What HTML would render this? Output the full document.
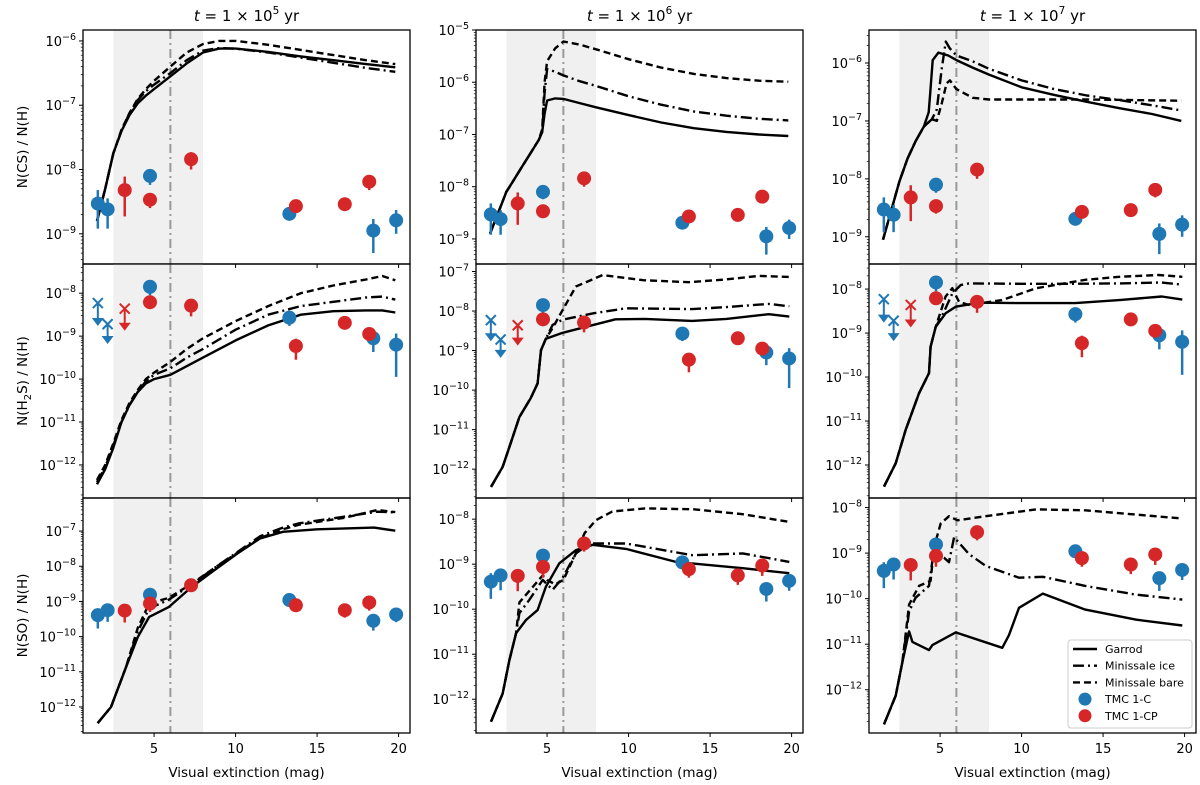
<!DOCTYPE html>
<html><head><meta charset="utf-8"><style>
body{margin:0;background:#fff}
svg{display:block;font-family:"DejaVu Sans","Liberation Sans",sans-serif}
</style></head><body>
<svg id="fig" width="1200" height="785" viewBox="0 0 1200 785"></svg>
<script>
// ---- observation data (log10 abundance) ----
const blueX=[1.55,2.15,4.75,13.3,18.45,19.85];
const redX=[3.2,4.75,7.27,13.7,16.7,18.2];
const csBlue=[-8.53,-8.62,-8.1,-8.69,-8.95,-8.79];
const csBlueLo=[-8.92,-8.92,-8.24,-8.79,-9.3,-9.0];
const csBlueHi=[-8.32,-8.45,-8.05,-8.65,-8.77,-8.63];
const csRed=[-8.32,-8.47,-7.84,-8.57,-8.54,-8.19];
const csRedLo=[-8.73,-8.6,-8.0,-8.67,-8.58,-8.32];
const csRedHi=[-8.11,-8.43,-7.73,-8.5,-8.5,-8.15];
const h2sBlue=[null,null,-7.85,-8.57,-9.05,-9.2];
const h2sBlueLo=[null,null,-8.05,-8.76,-9.37,-9.95];
const h2sBlueHi=[null,null,-7.72,-8.5,-8.9,-8.94];
const h2sRed=[null,-8.21,-8.29,-9.23,-8.69,-8.95];
const h2sRedLo=[null,-8.3,-8.54,-9.55,-8.75,-9.05];
const h2sRedHi=[null,-8.15,-8.2,-9.06,-8.65,-8.9];
const h2sLimX=[1.55,2.15,3.2];
const h2sLimVal=[-8.23,-8.72,-8.36];
const h2sLimTip=[-8.74,-9.16,-8.85];
const h2sLimColor=['b','b','r'];
const soBlue=[-9.39,-9.25,-8.81,-8.96,-9.55,-9.37];
const soBlueLo=[-9.77,-9.58,-9.04,-9.1,-9.83,-9.59];
const soBlueHi=[-9.2,-9.15,-8.75,-8.9,-9.45,-9.3];
const soRed=[-9.26,-9.06,-8.54,-9.11,-9.25,-9.03];
const soRedLo=[-9.6,-9.3,-8.72,-9.3,-9.46,-9.26];
const soRedHi=[-9.2,-9.0,-8.45,-9.05,-9.2,-8.98];
// ---- model curves (log10) ----
const r1c1x=[1.5,2,2.5,3,3.5,4,4.5,5,6,7,8,9,10,12,14,16,18,19.8];
const r1c1G=[-8.8,-8.3,-7.75,-7.4,-7.15,-6.97,-6.85,-6.75,-6.55,-6.35,-6.18,-6.12,-6.12,-6.17,-6.24,-6.3,-6.36,-6.41];
const r1c1I=[-8.8,-8.3,-7.75,-7.4,-7.12,-6.92,-6.78,-6.68,-6.5,-6.3,-6.15,-6.11,-6.12,-6.18,-6.26,-6.34,-6.42,-6.48];
const r1c1B=[-8.8,-8.3,-7.75,-7.38,-7.12,-6.9,-6.75,-6.62,-6.4,-6.18,-6.05,-6.0,-6.0,-6.06,-6.14,-6.22,-6.3,-6.36];
const r1c2x=[1.5,2,2.5,3,3.5,4,4.5,4.7,4.85,5,5.5,6,7,8,10,12,14,16,18,19.8];
const r1c2G=[-8.9,-8.5,-8.1,-7.85,-7.6,-7.35,-7.1,-6.95,-6.6,-6.35,-6.31,-6.32,-6.4,-6.48,-6.63,-6.77,-6.88,-6.95,-7.0,-7.03];
const r1c2I=[-8.9,-8.5,-8.1,-7.85,-7.6,-7.35,-7.1,-6.95,-6.2,-5.75,-5.8,-5.87,-5.98,-6.07,-6.27,-6.43,-6.56,-6.64,-6.7,-6.73];
const r1c2B=[-8.9,-8.5,-8.1,-7.85,-7.6,-7.35,-7.1,-6.9,-6.0,-5.6,-5.35,-5.22,-5.28,-5.37,-5.56,-5.72,-5.84,-5.92,-5.97,-5.99];
const r1c3Gx=[1.5,2,2.5,3,3.5,4,4.3,4.4,4.55,4.9,5.5,6,7,8,10,12,14,16,18,19.8];
const r1c3G=[-9.05,-8.55,-8.05,-7.65,-7.35,-7.1,-6.85,-6.5,-5.95,-5.82,-5.87,-5.95,-6.08,-6.2,-6.42,-6.55,-6.67,-6.78,-6.88,-7.0];
const r1c3Ix=[1.5,2,2.5,3,3.5,4,4.5,4.8,5.1,5.35,5.6,6,7,8,10,12,14,16,18,19.8];
const r1c3I=[-9.05,-8.55,-8.05,-7.65,-7.35,-7.1,-6.97,-6.8,-6.1,-5.63,-5.75,-5.87,-5.97,-6.1,-6.3,-6.45,-6.56,-6.64,-6.73,-6.82];
const r1c3Bx=[1.5,2,2.5,3,3.5,4,4.5,4.8,5.1,5.4,5.6,6,7,8,10,14,19.8];
const r1c3B=[-9.05,-8.55,-8.05,-7.65,-7.35,-7.1,-6.97,-7.0,-6.7,-6.35,-6.3,-6.45,-6.6,-6.63,-6.63,-6.63,-6.65];
const r2c1x=[1.5,2,2.5,3,3.5,4,4.5,5,6,7,8,10,12,14,16,18,19,19.8];
const r2c1G=[-12.45,-12.1,-11.6,-11.0,-10.6,-10.3,-10.1,-10.0,-9.9,-9.7,-9.5,-9.1,-8.75,-8.5,-8.42,-8.4,-8.4,-8.45];
const r2c1I=[-12.4,-12.05,-11.55,-11.0,-10.6,-10.3,-10.05,-9.9,-9.75,-9.5,-9.3,-8.85,-8.5,-8.3,-8.2,-8.1,-8.08,-8.15];
const r2c1B=[-12.35,-12.0,-11.5,-10.95,-10.55,-10.25,-10.0,-9.85,-9.6,-9.3,-9.05,-8.65,-8.3,-8.0,-7.82,-7.68,-7.6,-7.7];
const r2c2Gx=[1.56,2.28,2.69,3.3,4.0,4.42,4.63,4.93,5.96,7.39,9.2,11,13.9,16,18.6,19.86];
const r2c2G=[-12.45,-11.94,-11.44,-10.68,-10.2,-9.83,-8.99,-8.7,-8.55,-8.4,-8.21,-8.2,-8.25,-8.2,-8.08,-8.14];
const r2c2Ix=[1.56,2.28,2.69,3.3,4.0,4.42,4.63,4.93,5.34,5.96,7.8,9.84,12,13.9,16,18.6,19.86];
const r2c2I=[-12.45,-11.94,-11.44,-10.68,-10.2,-9.83,-8.99,-8.7,-8.35,-8.22,-8.06,-7.93,-7.94,-7.95,-7.9,-7.82,-7.88];
const r2c2Bx=[1.56,2.28,2.69,3.3,4.0,4.42,4.63,4.93,5.34,5.96,6.77,8.4,10.9,13.7,16,18.0,19.86];
const r2c2B=[-12.45,-11.94,-11.44,-10.68,-10.2,-9.83,-8.99,-8.7,-8.43,-7.97,-7.38,-7.09,-7.22,-7.27,-7.2,-7.11,-7.14];
const r2c3Gx=[1.56,2.28,2.89,3.71,4.32,4.42,4.73,5.34,5.96,7.39,10,13.3,16,18.6,19.86];
const r2c3G=[-12.49,-11.96,-11.2,-10.37,-9.91,-9.31,-8.86,-8.55,-8.4,-8.31,-8.32,-8.32,-8.25,-8.17,-8.24];
const r2c3Ix=[1.56,2.28,2.89,3.71,4.32,4.42,4.73,5.2,5.75,6.26,6.77,10,12.9,16,18.6,19.86];
const r2c3I=[-12.49,-11.96,-11.2,-10.37,-9.91,-9.31,-8.86,-8.55,-8.1,-7.91,-7.87,-7.88,-7.88,-7.87,-7.85,-7.9];
const r2c3Bx=[1.56,2.28,2.89,3.71,4.32,4.42,4.73,5.34,5.75,6.16,6.77,8.8,10.9,13.9,16,18.4,19.86];
const r2c3B=[-12.49,-11.96,-11.2,-10.37,-9.91,-9.31,-8.86,-8.17,-7.98,-8.29,-8.36,-8.25,-7.98,-7.79,-7.72,-7.68,-7.72];
const r3c1Gx=[1.54,2.36,3.28,4.0,4.7,5.9,7.3,8.7,10.1,11.5,12.9,15,18.5,19.8];
const r3c1G=[-12.46,-12.0,-10.87,-10.01,-9.44,-9.16,-8.59,-8.11,-7.64,-7.21,-7.02,-6.95,-6.9,-6.99];
const r3c1x=[1.54,2.36,3.28,4.0,4.7,5.9,7.3,8.7,10.1,11.5,12.9,13.9,16.7,18.7,19.8];
const r3c1I=[-12.46,-12.0,-10.87,-9.85,-9.2,-8.95,-8.52,-8.05,-7.6,-7.15,-6.9,-6.78,-6.59,-6.45,-6.47];
const r3c1B=[-12.46,-12.0,-10.87,-9.75,-9.06,-8.9,-8.5,-8.05,-7.62,-7.2,-6.95,-6.82,-6.62,-6.4,-6.46];
const r3c2Gx=[1.56,2.28,2.69,3.1,3.71,4.42,4.93,5.75,6.77,7.8,9.84,12.9,17,19.86];
const r3c2G=[-12.5,-11.87,-11.13,-10.53,-10.24,-10.02,-9.5,-8.98,-8.69,-8.57,-8.66,-8.95,-9.09,-9.2];
const r3c2Ix=[1.56,2.28,2.69,3.1,3.3,3.9,4.73,5.34,5.96,6.77,7.6,9.84,13.9,17,19.86];
const r3c2I=[-12.5,-11.87,-11.13,-10.53,-10.09,-9.8,-9.35,-9.57,-9.3,-8.76,-8.54,-8.54,-8.8,-8.76,-8.95];
const r3c2Bx=[1.56,2.28,2.69,3.1,3.3,3.9,4.73,5.0,5.5,6.0,6.77,7.3,8.0,9.0,11,14,17,19.86];
const r3c2B=[-12.5,-11.87,-11.13,-10.53,-9.85,-9.6,-9.25,-9.35,-9.45,-9.35,-8.76,-8.31,-8.02,-7.83,-7.76,-7.78,-7.89,-8.06];
const r3c3Gx=[1.56,2.28,2.69,3.1,3.3,4.32,4.53,5.96,8.82,9.23,9.84,11.3,13.9,17,19.86];
const r3c3G=[-12.76,-12.13,-11.39,-10.72,-10.95,-11.13,-11.02,-10.74,-11.08,-10.8,-10.2,-9.89,-10.24,-10.46,-10.59];
const r3c3Ix=[1.56,2.28,2.69,3.1,3.5,4.32,4.53,4.83,5.24,5.55,5.86,6.77,7.8,9.84,11.3,13.9,17,19.86];
const r3c3I=[-12.76,-12.13,-11.39,-10.28,-9.98,-9.72,-9.17,-9.05,-9.1,-9.2,-8.65,-9.02,-9.28,-9.54,-9.52,-9.72,-9.91,-10.02];
const r3c3Bx=[1.56,2.28,2.69,3.1,3.71,4.42,4.63,5.04,5.55,6.06,7.8,10.9,13.9,19.86];
const r3c3B=[-12.76,-12.13,-11.39,-10.13,-9.72,-9.61,-8.87,-8.35,-8.19,-8.28,-8.19,-8.04,-8.06,-8.24];
const xTicks=[5,10,15,20];
const titles=['1 \u00d7 10','1 \u00d7 10','1 \u00d7 10'];
const titleExp=['5','6','7'];

const NS='http://www.w3.org/2000/svg';
const svg=document.getElementById('fig');
function mk(tag,attrs,parent){const e=document.createElementNS(NS,tag);for(const k in attrs)e.setAttribute(k,attrs[k]);(parent||svg).appendChild(e);return e;}
const colL=[83,476,869], colW=327;
const rowT=[30,264,498], rowH=[234,234,235];
const XMIN=0.64, XMAX=20.7;
const yr=[[[-9.47,-5.83],[-9.48,-5.0],[-9.47,-5.43]],
          [[-12.77,-7.32],[-12.73,-6.81],[-12.75,-7.43]],
          [[-12.74,-6.06],[-12.75,-7.53],[-12.95,-7.79]]];
const curves=[
 [[r1c1x,r1c1G,r1c1x,r1c1I,r1c1x,r1c1B],[r1c2x,r1c2G,r1c2x,r1c2I,r1c2x,r1c2B],[r1c3Gx,r1c3G,r1c3Ix,r1c3I,r1c3Bx,r1c3B]],
 [[r2c1x,r2c1G,r2c1x,r2c1I,r2c1x,r2c1B],[r2c2Gx,r2c2G,r2c2Ix,r2c2I,r2c2Bx,r2c2B],[r2c3Gx,r2c3G,r2c3Ix,r2c3I,r2c3Bx,r2c3B]],
 [[r3c1Gx,r3c1G,r3c1x,r3c1I,r3c1x,r3c1B],[r3c2Gx,r3c2G,r3c2Ix,r3c2I,r3c2Bx,r3c2B],[r3c3Gx,r3c3G,r3c3Ix,r3c3I,r3c3Bx,r3c3B]]];
const obs=[
 [csBlue,csBlueLo,csBlueHi,csRed,csRedLo,csRedHi],
 [h2sBlue,h2sBlueLo,h2sBlueHi,h2sRed,h2sRedLo,h2sRedHi],
 [soBlue,soBlueLo,soBlueHi,soRed,soRedLo,soRedHi]];
const BLUE='#1f77b4', RED='#d62728';
const styles=[{d:'none',n:'garrod'},{d:'11,4,2,4',n:'minissale-ice'},{d:'7,4',n:'minissale-bare'}];
const ylabels=[['N(CS) / N(H)'],['N(H','2','S) / N(H)'],['N(SO) / N(H)']];
const species=['cs','h2s','so'];

const defs=mk('defs',{});
for(let r=0;r<3;r++)for(let c=0;c<3;c++){
  const cp=mk('clipPath',{id:'cp'+r+c},defs);
  mk('rect',{x:colL[c],y:rowT[r],width:colW,height:rowH[r]},cp);
}
for(let r=0;r<3;r++)for(let c=0;c<3;c++){
  const L=colL[c],T=rowT[r],H=rowH[r],lo=yr[r][c][0],hi=yr[r][c][1];
  const sx=x=>L+(x-XMIN)/(XMAX-XMIN)*colW;
  const sy=v=>T+(hi-v)/(hi-lo)*H;
  const g=mk('g',{});
  
  
  const cg=mk('g',{'clip-path':'url(#cp'+r+c+')'},g);
  const sh=mk('rect',{x:sx(2.5),y:T,width:sx(8)-sx(2.5),height:H,fill:'#f0f0f0'},cg);
  
  
  const vl=mk('line',{x1:sx(6),x2:sx(6),y1:T,y2:T+H,stroke:'#999',"stroke-width":2,"stroke-dasharray":'9,4,2,4'},cg);
  
  
  for(let s=0;s<3;s++){
    const xs=curves[r][c][2*s], vs=curves[r][c][2*s+1];
    const d=xs.map((x,i)=>(i?'L':'M')+sx(x).toFixed(1)+','+sy(vs[i]).toFixed(1)).join('');
    const p=mk('path',{d:d,fill:'none',stroke:'#000',"stroke-width":2.4,"stroke-linejoin":'round'},cg);
    if(styles[s].d!=='none')p.setAttribute('stroke-dasharray',styles[s].d);
    
    
  }
  const o=obs[r];
  const draw=(xs,v,lo2,hi2,col,nm)=>{
    for(let i=0;i<xs.length;i++){ if(v[i]===null)continue;
      const e=mk('line',{x1:sx(xs[i]),x2:sx(xs[i]),y1:sy(lo2[i]),y2:sy(hi2[i]),stroke:col,"stroke-width":2.5},cg);
      
      
      const m=mk('circle',{cx:sx(xs[i]),cy:sy(v[i]),r:7,fill:col},cg);
      
      
    }};
  draw(blueX,o[0],o[1],o[2],BLUE,'tmc1c');
  draw(redX,o[3],o[4],o[5],RED,'tmc1cp');
  if(r===1){
    for(let i=0;i<h2sLimX.length;i++){
      const col=h2sLimColor[i]==='b'?BLUE:RED, X=sx(h2sLimX[i]), Y=sy(h2sLimVal[i]), Yt=sy(h2sLimTip[i]);
      const ul=mk('g',{},cg);
      
      
      mk('path',{d:`M${X-5},${Y-5}L${X+5},${Y+5}M${X-5},${Y+5}L${X+5},${Y-5}M${X},${Y}L${X},${Yt-5}`,stroke:col,"stroke-width":2,fill:'none'},ul);
      mk('path',{d:`M${X-6},${Yt-7}L${X+6},${Yt-7}L${X},${Yt+1}Z`,fill:col},ul);
    }
  }
  const fr=mk('rect',{x:L,y:T,width:colW,height:H,fill:'none',stroke:'#000',"stroke-width":1.3},g);
  
  
  for(let d=Math.floor(lo);d<=Math.ceil(hi);d++){
    for(let k=1;k<10;k++){
      const v=d+Math.log10(k); if(v<lo||v>hi)continue;
      const y=sy(v);
      mk('line',{x1:L,x2:L-(k===1?4:2.2),y1:y,y2:y,stroke:'#000',"stroke-width":k===1?1:0.7},g);
      if(k===1){
        const t=mk('text',{x:L-7,y:y+5,"text-anchor":'end',"font-size":13,fill:'#000'},g);
        
        
        t.textContent='10';
        const ts=mk('tspan',{dy:-6,"font-size":9.5},t); ts.textContent='\u2212'+(-d);
      }
    }
  }
  xTicks.forEach(xv=>{
    const X=sx(xv);
    mk('line',{x1:X,x2:X,y1:T+H,y2:T+H+4,stroke:'#000',"stroke-width":1},g);
    if(r===2){
      const t=mk('text',{x:X,y:T+H+20,"text-anchor":'middle',"font-size":13},g);
      
      
      t.textContent=xv;
    }
  });
  if(r===2){
    const t=mk('text',{x:L+colW/2,y:777,"text-anchor":'middle',"font-size":13.5},g);
    
    
    t.textContent='Visual extinction (mag)';
  }
  if(r===0){
    const t=mk('text',{x:L+colW/2,y:21,"text-anchor":'middle',"font-size":15},g);
    
    
    const a=mk('tspan',{"font-style":'italic'},t); a.textContent='t';
    const b=mk('tspan',{},t); b.textContent=' = '+titles[c];
    const e=mk('tspan',{dy:-7,"font-size":10.5},t); e.textContent=titleExp[c];
    const f=mk('tspan',{dy:7},t); f.textContent=' yr';
  }
  if(c===0){
    const cy=T+H/2;
    const t=mk('text',{x:0,y:0,transform:`translate(27,${cy}) rotate(-90)`,"text-anchor":'middle',"font-size":13.5},g);
    
    
    const parts=ylabels[r];
    const a=mk('tspan',{},t); a.textContent=parts[0];
    if(parts.length>1){const s2=mk('tspan',{dy:4,"font-size":10},t); s2.textContent=parts[1];
      const s3=mk('tspan',{dy:-4},t); s3.textContent=parts[2];}
  }
}
const lg=mk('g',{});


mk('rect',{x:1068,y:640,width:124,height:88,rx:3,fill:'#fff',"fill-opacity":0.85,stroke:'#ccc'},lg);
const lnames=['Garrod','Minissale ice','Minissale bare','TMC 1-C','TMC 1-CP'];
lnames.forEach((n,i)=>{
  const y=649+i*16.7;
  if(i<3){const l=mk('line',{x1:1073,x2:1097,y1:y,y2:y,stroke:'#000',"stroke-width":2.4},lg);
    if(styles[i].d!=='none')l.setAttribute('stroke-dasharray',i===1?'11,4,2,4':'7,4');}
  else mk('circle',{cx:1085,cy:y,r:6.5,fill:i===3?BLUE:RED},lg);
  const t=mk('text',{x:1105,y:y+4,"font-size":11},lg);
  
  
  t.textContent=n;
});
</script>
</body></html>
